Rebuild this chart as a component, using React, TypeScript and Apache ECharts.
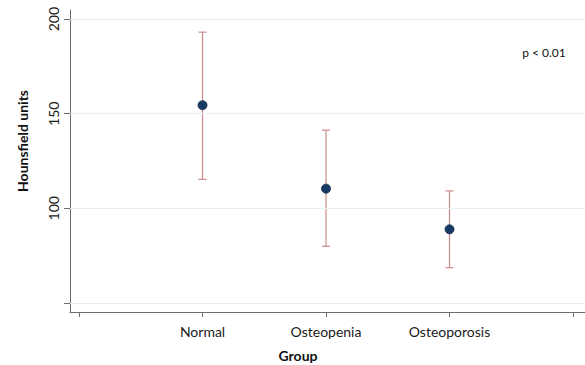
import React, { useEffect, useRef } from "react";
import * as echarts from "echarts";

const groups = ["Normal", "Osteopenia", "Osteoporosis"];
const groupX = [1, 2, 3];
const means = [154.5, 110.4, 88.9];
const lower = [115.3, 79.9, 68.6];
const upper = [193.1, 141.3, 109.2];
const yTicks = [50, 100, 150, 200];
const yLabels = [100, 150, 200];
const xTicks = [0, 1, 2, 3, 4];
const yTitle = "Hounsfield units";
const xTitle = "Group";
const note = "p < 0.01";

const FONT = "Lato, 'Open Sans', sans-serif";

export default function App() {
  const ref = useRef<HTMLDivElement>(null);
  useEffect(() => {
    if (!ref.current) return;
    const chart = echarts.init(ref.current, undefined, { renderer: "svg" });
    const axisColor = "#6b6b6b";
    chart.setOption({
      animation: false,
      backgroundColor: "#ffffff",
      grid: { left: 70, right: 0, top: 10, bottom: 53 },
      xAxis: {
        type: "value",
        min: -0.073,
        max: 4.097,
        axisLine: { show: true, onZero: false, lineStyle: { color: axisColor, width: 1 } },
        axisTick: { show: true, customValues: xTicks, length: 5, lineStyle: { color: axisColor } },
        axisLabel: {
          customValues: groupX,
          formatter: (v: number) => groups[Math.round(v) - 1] ?? "",
          margin: 12,
          fontSize: 14,
          color: "#1a1a1a",
          fontFamily: FONT,
        },
        splitLine: { show: false },
      },
      yAxis: {
        type: "value",
        min: 45.2,
        max: 204.8,
        axisLine: { show: true, onZero: false, lineStyle: { color: axisColor, width: 1 } },
        axisTick: { show: true, customValues: yTicks, length: 6, lineStyle: { color: axisColor } },
        axisLabel: {
          customValues: yLabels,
          rotate: 90,
          margin: 10,
          fontSize: 14,
          color: "#1a1a1a",
          fontFamily: FONT,
        },
        splitLine: { show: false },
      },
      graphic: [
        {
          type: "text",
          x: 22,
          y: 141,
          rotation: Math.PI / 2,
          style: {
            text: yTitle,
            fontSize: 14,
            fontWeight: "bold",
            fill: "#111",
            fontFamily: FONT,
            textAlign: "center",
            textVerticalAlign: "middle",
          },
        },
        {
          type: "text",
          x: 298,
          y: 355,
          style: {
            text: xTitle,
            fontSize: 14,
            fontWeight: "bold",
            fill: "#111",
            fontFamily: FONT,
            textAlign: "center",
            textVerticalAlign: "middle",
          },
        },
        {
          type: "text",
          x: 544,
          y: 52,
          style: {
            text: note,
            fontSize: 12,
            fill: "#111",
            fontFamily: FONT,
            textAlign: "center",
            textVerticalAlign: "middle",
          },
        },
      ],
      series: [
        {
          type: "custom",
          z: 1,
          data: groupX.map((x, i) => [x, lower[i], upper[i]]),
          renderItem: (params: any, api: any) => {
            const x = api.value(0);
            const lo = api.coord([x, api.value(1)]);
            const hi = api.coord([x, api.value(2)]);
            const w = 4;
            const style = { stroke: "#cd8a8a", lineWidth: 1.2 };
            return {
              type: "group",
              children: [
                { type: "line", shape: { x1: lo[0], y1: lo[1], x2: hi[0], y2: hi[1] }, style },
                { type: "line", shape: { x1: lo[0] - w, y1: lo[1], x2: lo[0] + w, y2: lo[1] }, style },
                { type: "line", shape: { x1: hi[0] - w, y1: hi[1], x2: hi[0] + w, y2: hi[1] }, style },
              ],
            };
          },
          markLine: {
            silent: true,
            symbol: "none",
            label: { show: false },
            lineStyle: { color: "#e6eff1", type: "solid", width: 1 },
            data: yTicks.map((v) => ({ yAxis: v })),
          },
        },
        {
          type: "scatter",
          z: 3,
          symbol: "circle",
          symbolSize: 9,
          itemStyle: { color: "#183a64", borderColor: "#0f2848", borderWidth: 0.8, opacity: 1 },
          data: groupX.map((x, i) => [x, means[i]]),
        },
      ],
    });
    return () => chart.dispose();
  }, []);
  return (
    <div
      ref={ref}
      style={{ position: "absolute", left: 0, top: 0, width: 585, height: 365 }}
    />
  );
}
